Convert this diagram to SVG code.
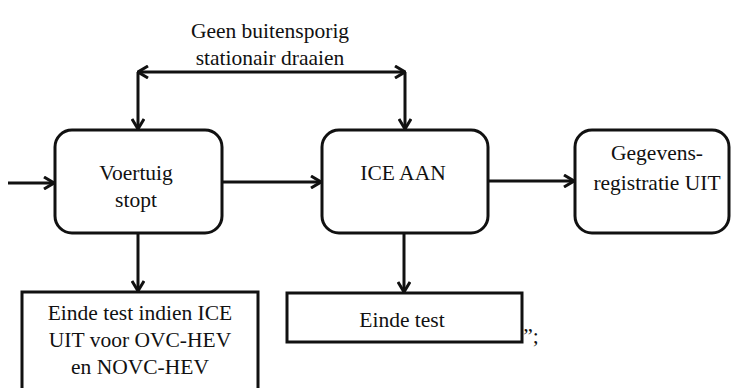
<svg xmlns="http://www.w3.org/2000/svg" width="733" height="388" viewBox="0 0 733 388">
<defs>
<marker id="ah" viewBox="0 0 12 14" refX="11" refY="7" markerWidth="12" markerHeight="14" markerUnits="userSpaceOnUse" orient="auto-start-reverse">
<path d="M1,1 L11,7 L1,13" fill="none" stroke="#111" stroke-width="3" stroke-linejoin="miter"/>
</marker>
<style>
.box{fill:#fff;stroke:#111;stroke-width:3}
.t{font-family:'Liberation Serif','DejaVu Serif',serif;font-size:21.5px;fill:#111;text-anchor:middle}
.c{fill:none;stroke:#111;stroke-width:3}
</style>
</defs>
<rect width="733" height="388" fill="#fff"/>
<g id="connectors">
<line class="c" x1="138" y1="72" x2="405" y2="72" marker-start="url(#ah)" marker-end="url(#ah)"/>
<line class="c" x1="138" y1="72" x2="138" y2="129" marker-end="url(#ah)"/>
<line class="c" x1="405" y1="72" x2="405" y2="129" marker-end="url(#ah)"/>
<line class="c" x1="8" y1="183" x2="54" y2="183" marker-end="url(#ah)"/>
<line class="c" x1="222" y1="182" x2="321" y2="182" marker-end="url(#ah)"/>
<line class="c" x1="488" y1="181" x2="574" y2="181" marker-end="url(#ah)"/>
<line class="c" x1="138" y1="233" x2="138" y2="291" marker-end="url(#ah)"/>
<line class="c" x1="404" y1="233" x2="404" y2="292" marker-end="url(#ah)"/>
</g>
<g id="label-top">
<text class="t" x="270" y="38">Geen buitensporig</text>
<text class="t" x="270" y="65">stationair draaien</text>
</g>
<g id="node-voertuig">
<rect class="box" x="55" y="130" width="167" height="103" rx="17"/>
<text class="t" x="136" y="180">Voertuig</text>
<text class="t" x="136" y="207">stopt</text>
</g>
<g id="node-ice">
<rect class="box" x="322" y="130" width="166" height="103" rx="17"/>
<text class="t" x="403" y="180">ICE AAN</text>
</g>
<g id="node-gegevens">
<rect class="box" x="575" y="130" width="154" height="103" rx="17"/>
<text class="t" x="657" y="160">Gegevens-</text>
<text class="t" x="657" y="190">registratie UIT</text>
</g>
<g id="node-einde-ice">
<rect class="box" x="22" y="292" width="236" height="110"/>
<text class="t" x="140" y="320">Einde test indien ICE</text>
<text class="t" x="140" y="347">UIT voor OVC-HEV</text>
<text class="t" x="140" y="374">en NOVC-HEV</text>
</g>
<g id="node-einde">
<rect class="box" x="287" y="293" width="235" height="49"/>
<text class="t" x="402" y="327">Einde test</text>
</g>
<text class="t" x="531" y="343">”;</text>
</svg>
